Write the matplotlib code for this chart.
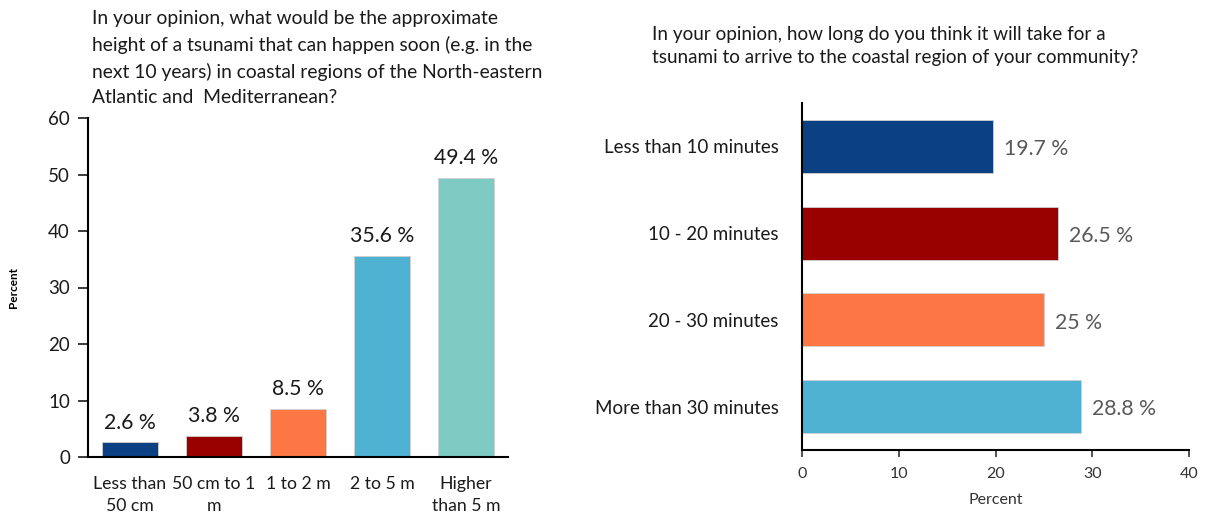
import matplotlib
matplotlib.use('Agg')
import matplotlib.pyplot as plt

plt.rcParams['font.family'] = ['Lato', 'DejaVu Sans']

# left chart: expected tsunami height
height_cats = ['Less than\n50 cm', '50 cm to 1\nm', '1 to 2 m', '2 to 5 m', 'Higher\nthan 5 m']
height_vals = [2.6, 3.8, 8.5, 35.6, 49.4]
height_labels = ['2.6 %', '3.8 %', '8.5 %', '35.6 %', '49.4 %']
height_colors = ['#0b4083', '#990000', '#fd7744', '#4fb2d3', '#7ecbc4']

# right chart: expected arrival time
time_cats = ['Less than 10 minutes', '10 - 20 minutes', '20 - 30 minutes', 'More than 30 minutes']
time_vals = [19.7, 26.5, 25.0, 28.8]
time_labels = ['19.7 %', '26.5 %', '25 %', '28.8 %']
time_colors = ['#0b4083', '#990000', '#fd7744', '#4fb2d3']

W, H = 1205, 513
fig = plt.figure(figsize=(W / 100, H / 100), dpi=100)

# ---- left
ax1 = fig.add_axes([88 / W, (H - 457) / H, 420 / W, 339 / H])
x = range(len(height_cats))
ax1.bar(x, height_vals, width=0.67, color=height_colors, edgecolor='#d0d0d0', linewidth=0.6, zorder=2)
for i, (v, lab) in enumerate(zip(height_vals, height_labels)):
    ax1.annotate(lab, (i, v), xytext=(0, 7), textcoords='offset points',
                 ha='center', va='bottom', fontsize=15.3, color='#1a1a1a')
ax1.set_xlim(-0.5, len(height_cats) - 0.5)
ax1.set_ylim(0, 60)
ax1.set_yticks(range(0, 61, 10))
ax1.set_xticks(list(x))
ax1.set_xticklabels(height_cats, fontsize=12.7, linespacing=1.4, color='#1a1a1a')
ax1.tick_params(axis='y', labelsize=13.5, length=7, width=1.2, direction='out', pad=6, colors='#1a1a1a')
ax1.tick_params(axis='x', length=0, pad=14)
for s in ['top', 'right']:
    ax1.spines[s].set_visible(False)
for s in ['left', 'bottom']:
    ax1.spines[s].set_linewidth(1.5)
ax1.set_ylabel('Percent', fontsize=8.5, fontweight='bold')
ax1.yaxis.set_label_coords(-0.165, 0.5)
fig.text(92 / W, 1 - 10 / H,
         'In your opinion, what would be the approximate\n'
         'height of a tsunami that can happen soon (e.g. in the\n'
         'next 10 years) in coastal regions of the North-eastern\n'
         'Atlantic and  Mediterranean?',
         ha='left', va='top', fontsize=13.9, linespacing=1.58, color='#1a1a1a')

# ---- right
ax2 = fig.add_axes([802 / W, (H - 450) / H, 387 / W, 347 / H])
y = range(len(time_cats))
ax2.barh(y, time_vals, height=0.61, color=time_colors, edgecolor='#d0d0d0', linewidth=0.6, zorder=2)
for i, (v, lab) in enumerate(zip(time_vals, time_labels)):
    ax2.annotate(lab, (v, i), xytext=(8, -2), textcoords='offset points',
                 ha='left', va='center', fontsize=15.3, color='#595959')
ax2.set_ylim(len(time_cats) - 0.5, -0.5)
ax2.set_xlim(0, 40)
ax2.set_xticks(range(0, 41, 10))
ax2.set_yticks(list(y))
ax2.set_yticklabels(time_cats, fontsize=13.5, color='#1a1a1a')
ax2.tick_params(axis='y', length=0, pad=17)
ax2.tick_params(axis='x', labelsize=11.5, length=5, width=1.2, direction='out', pad=7, colors='#333333')
for s in ['top', 'right']:
    ax2.spines[s].set_visible(False)
for s in ['left', 'bottom']:
    ax2.spines[s].set_linewidth(1.5)
ax2.set_xlabel('Percent', fontsize=11.5, color='#333333', labelpad=9)
fig.text(652 / W, 1 - 26 / H,
         'In your opinion, how long do you think it will take for a\n'
         'tsunami to arrive to the coastal region of your community?',
         ha='left', va='top', fontsize=13.6, linespacing=1.4, color='#1a1a1a')

fig.savefig('out.png', dpi=100)
